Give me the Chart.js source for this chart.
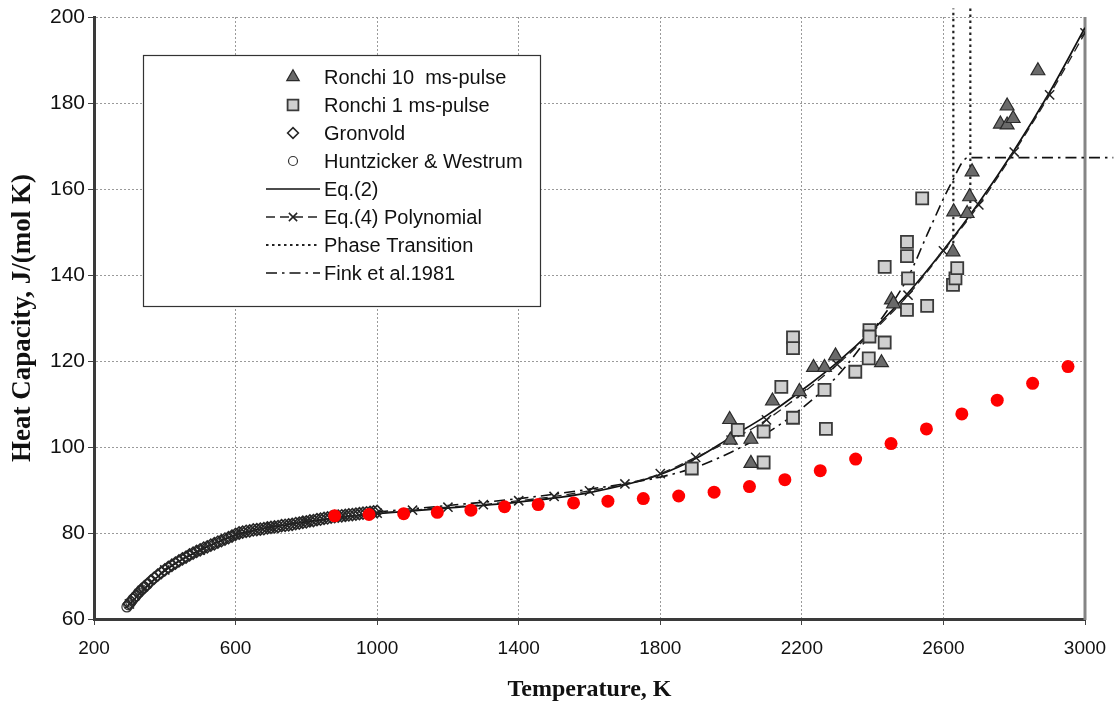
<!DOCTYPE html>
<html>
<head>
<meta charset="utf-8">
<title>Heat Capacity vs Temperature</title>
<script src="https://cdn.jsdelivr.net/npm/chart.js"></script>
<style>
  html, body { margin: 0; padding: 0; background: #fff; }
</style>
</head>
<body>
<canvas id="cp" width="1115" height="707"></canvas>
<script>
// ---- axis ticks
const xTicks = [200, 600, 1000, 1400, 1800, 2200, 2600, 3000];
const yTicks = [60, 80, 100, 120, 140, 160, 180, 200];

// ---- Ronchi 10 ms-pulse (triangles)
const r10T  = [1996, 1998, 2056, 2056, 2117, 2193, 2233, 2264, 2295, 2425, 2453, 2459, 2627, 2629, 2667, 2674, 2681, 2761, 2780, 2797, 2780, 2867];
const r10Cp = [106.4, 101.6, 101.8, 96.2, 110.7, 112.9, 118.5, 118.5, 121.2, 119.6, 134.2, 133.3, 145.4, 154.7, 154.3, 158.2, 164.0, 175.1, 174.9, 176.4, 179.3, 187.5];

// ---- Ronchi 1 ms-pulse (squares)
const r1T  = [1889, 2019, 2092, 2092, 2142, 2175, 2175, 2175, 2264, 2268, 2351, 2389, 2391, 2391, 2434, 2434, 2497, 2497, 2500, 2497, 2540, 2554, 2627, 2634, 2639];
const r1Cp = [95.0, 104.0, 103.6, 96.4, 114.0, 125.5, 123.0, 106.8, 113.3, 104.2, 117.5, 120.6, 127.2, 125.7, 124.3, 141.9, 147.7, 144.4, 139.2, 131.9, 157.8, 132.8, 137.7, 139.2, 141.6];

// ---- Gronvold (diamonds), dense run 300-1000 K
const groT  = [300, 310, 320, 330, 340, 350, 360, 370, 380, 390, 400, 410, 420, 430, 440, 450, 460, 470, 480, 490,
               500, 510, 520, 530, 540, 550, 560, 570, 580, 590, 600, 610, 620, 630, 640, 650, 660, 670, 680, 690,
               700, 710, 720, 730, 740, 750, 760, 770, 780, 790, 800, 810, 820, 830, 840, 850, 860, 870, 880, 890,
               900, 910, 920, 930, 940, 950, 960, 970, 980, 990, 1000];
const groCp = [63.6, 64.6, 65.5, 66.4, 67.2, 68.0, 68.8, 69.5, 70.2, 70.8, 71.4, 72.0, 72.5, 73.0, 73.5, 74.0, 74.4, 74.9, 75.3, 75.7,
               76.1, 76.5, 76.8, 77.2, 77.5, 77.9, 78.2, 78.6, 78.9, 79.3, 79.7, 80.0, 80.2, 80.4, 80.5, 80.7, 80.8, 80.9, 81.0, 81.2,
               81.3, 81.4, 81.5, 81.7, 81.8, 81.9, 82.0, 82.2, 82.3, 82.5, 82.6, 82.8, 82.9, 83.1, 83.2, 83.4, 83.5, 83.7, 83.8, 83.9,
               84.0, 84.1, 84.2, 84.3, 84.4, 84.5, 84.6, 84.7, 84.8, 84.9, 85.0];

// ---- Huntzicker & Westrum (circles)
const hwT  = [293, 298, 304, 310, 318, 326, 334, 342, 350];
const hwCp = [62.8, 63.3, 63.9, 64.6, 65.3, 66.1, 66.8, 67.4, 68.0];

// ---- Eq.(2)
const eq2T  = [290, 300, 350, 400, 450, 500, 550, 600, 650, 700, 800, 900, 1000, 1200, 1400, 1600, 1800, 1900, 2000, 2100, 2200, 2300, 2400, 2500, 2600, 2700, 2800, 2900, 3000];
const eq2Cp = [62.6, 63.4, 67.6, 71.2, 73.9, 76.0, 77.9, 79.5, 80.6, 81.3, 82.6, 83.7, 84.5, 85.8, 87.2, 89.4, 93.6, 97.3, 102.3, 107.3, 113.2, 119.7, 127.2, 135.8, 145.8, 156.8, 169.0, 182.5, 197.5];

// ---- Eq.(4) Polynomial
const eq4T  = [300, 400, 500, 600, 700, 800, 900, 1000, 1100, 1200, 1300, 1400, 1500, 1600, 1700, 1800, 1900, 2000, 2100, 2200, 2300, 2400, 2500, 2600, 2700, 2800, 2900, 3000];
const eq4Cp = [63.5, 71.4, 76.0, 79.6, 81.4, 82.7, 83.8, 84.6, 85.3, 86.0, 86.6, 87.5, 88.5, 89.8, 91.4, 93.8, 97.6, 101.6, 106.3, 112.4, 119.2, 126.8, 135.3, 145.6, 156.3, 168.6, 181.9, 196.3];

// ---- Phase Transition (two vertical dotted lines)
const phT  = [2628, 2628, 2676, 2676, 2676];
const phCp = [146, 202, null, 202, 153];

// ---- Fink et al.1981
const finkT  = [1000, 1200, 1400, 1600, 1800, 1900, 2000, 2100, 2200, 2300, 2400, 2500, 2560, 2620, 2670, 3080];
const finkCp = [84.9, 86.4, 88.0, 90.2, 93.0, 95.3, 98.8, 103.2, 109.0, 116.5, 127.0, 139.5, 150.5, 161.0, 167.3, 167.3];

// ---- red points (not in legend)
const redT  = [880, 977, 1075, 1170, 1265, 1360, 1455, 1555, 1652, 1752, 1852, 1952, 2052, 2152, 2252, 2352, 2452, 2552, 2652, 2752, 2852, 2952];
const redCp = [84.0, 84.3, 84.5, 84.8, 85.3, 86.1, 86.6, 87.0, 87.4, 88.0, 88.6, 89.5, 90.8, 92.4, 94.5, 97.2, 100.8, 104.2, 107.7, 110.9, 114.8, 118.7];

const pts = (xs, ys) => xs.map((x, i) => ({ x, y: ys[i] }));

const SANS = "'Liberation Sans', Arial, Helvetica, sans-serif";
const SERIF = "'Liberation Serif', 'Times New Roman', serif";
Chart.defaults.font.family = SANS;
Chart.defaults.color = '#111';

const datasets = [
    { label: '', data: pts(redT, redCp), order: 0,
      pointStyle: 'circle', pointRadius: 6.5, pointHoverRadius: 6.5,
      backgroundColor: '#ff0000', borderColor: '#ff0000', borderWidth: 0 },
    { label: 'Ronchi 10  ms-pulse', data: pts(r10T, r10Cp), order: 1,
      pointStyle: 'triangle', pointRadius: 8, backgroundColor: '#6a6a6a', borderColor: '#2a2a2a', borderWidth: 1.2 },
    { label: 'Ronchi 1 ms-pulse', data: pts(r1T, r1Cp), order: 1,
      pointStyle: 'rect', pointRadius: 8.5, backgroundColor: '#cfcfcf', borderColor: '#3a3a3a', borderWidth: 1.8 },
    { label: 'Gronvold', data: pts(groT, groCp), order: 2,
      pointStyle: 'rectRot', pointRadius: 6, backgroundColor: 'rgba(255,255,255,0)', borderColor: '#262626', borderWidth: 1.6 },
    { label: 'Huntzicker & Westrum', data: pts(hwT, hwCp), order: 2,
      pointStyle: 'circle', pointRadius: 5, backgroundColor: 'rgba(255,255,255,0)', borderColor: '#333', borderWidth: 1.2 },
    { label: 'Eq.(2)', data: pts(eq2T, eq2Cp), order: 5, showLine: true, pointRadius: 0,
      cubicInterpolationMode: 'monotone', borderColor: '#111', borderWidth: 1.7, _line: true },
    { label: 'Eq.(4) Polynomial', data: pts(eq4T, eq4Cp), order: 4, showLine: true,
      cubicInterpolationMode: 'monotone', borderColor: '#222', borderWidth: 1.3, borderDash: [9, 5],
      pointStyle: 'crossRot', pointRadius: 6.5, pointBorderWidth: 1.5, pointBorderColor: '#222', _line: true, _marker: true },
    { label: 'Phase Transition', data: pts(phT, phCp), order: 5, showLine: true, spanGaps: false, pointRadius: 0,
      borderColor: '#222', borderWidth: 2.2, borderDash: [2.5, 3.5], clip: { left: 0, top: 12, right: 0, bottom: 0 }, _line: true },
    { label: 'Fink et al.1981', data: pts(finkT, finkCp), order: 5, showLine: true, pointRadius: 0,
      cubicInterpolationMode: 'monotone', borderColor: '#111', borderWidth: 1.6, borderDash: [11, 5, 2.5, 5],
      clip: { left: 0, top: 0, right: 32, bottom: 0 }, _line: true }
];

// plot frame on the right
const framePlugin = {
    id: 'frame',
    beforeDatasetsDraw(chart) {
        const { ctx, chartArea: a } = chart;
        ctx.save();
        ctx.strokeStyle = '#858585';
        ctx.lineWidth = 3;
        ctx.beginPath();
        ctx.moveTo(a.right, a.top);
        ctx.lineTo(a.right, a.bottom + 1);
        ctx.stroke();
        ctx.restore();
    }
};

// legend box inside the plot
const insetLegend = {
    id: 'insetLegend',
    afterDraw(chart) {
        const { ctx, chartArea: a } = chart;
        const bx = a.left + 49, by = a.top + 38, bw = 397, bh = 251;
        const mx = bx + 150, lx0 = bx + 123, lx1 = bx + 177, tx = bx + 181;
        const rows = chart.data.datasets.filter(d => d.label);
        ctx.save();
        ctx.fillStyle = '#fff';
        ctx.fillRect(bx, by, bw, bh);
        ctx.strokeStyle = '#333';
        ctx.lineWidth = 1.2;
        ctx.strokeRect(bx + 0.5, by + 0.5, bw, bh);
        ctx.font = '20px ' + SANS;
        ctx.textBaseline = 'middle';
        rows.forEach((d, i) => {
            const y = by + 22 + i * 28;
            if (d._line) {
                ctx.save();
                ctx.strokeStyle = d.borderColor;
                ctx.lineWidth = d.borderWidth;
                ctx.setLineDash(d.borderDash || []);
                ctx.beginPath();
                ctx.moveTo(lx0, y);
                ctx.lineTo(lx1, y);
                ctx.stroke();
                ctx.restore();
            }
            if (!d._line || d._marker) {
                ctx.save();
                ctx.fillStyle = d._marker ? 'rgba(0,0,0,0)' : d.backgroundColor;
                ctx.strokeStyle = d.pointBorderColor || d.borderColor;
                ctx.lineWidth = d.pointBorderWidth || d.borderWidth;
                Chart.helpers.drawPoint(ctx, {
                    pointStyle: d.pointStyle, rotation: 0,
                    radius: d.pointRadius * 0.9, borderWidth: ctx.lineWidth
                }, mx, y);
                ctx.restore();
            }
            ctx.fillStyle = '#111';
            ctx.fillText(d.label, tx, y + 1);
        });
        ctx.restore();
    }
};

new Chart(document.getElementById('cp'), {
    type: 'scatter',
    data: { datasets },
    options: {
        responsive: false,
        animation: false,
        layout: { padding: { left: 0, right: 30, top: 17, bottom: 0 } },
        plugins: { legend: { display: false }, tooltip: { enabled: false } },
        scales: {
            x: {
                type: 'linear', min: 200, max: 3000,
                afterBuildTicks: (ax) => { ax.ticks = xTicks.map(v => ({ value: v })); },
                afterFit: (ax) => { ax.height = 88; ax.paddingLeft = 0; ax.paddingRight = 0; },
                ticks: { padding: 12, color: '#111', font: { size: 19 }, callback: (v) => String(v) },
                grid: { color: '#9a9a9a', lineWidth: 1, tickLength: 6, tickColor: '#444', tickBorderDash: [] },
                border: { color: '#3a3a3a', width: 3, dash: [2, 2] },
                title: { display: true, text: 'Temperature, K', color: '#111',
                         font: { size: 24, weight: 'bold', family: SERIF }, padding: { top: 0, bottom: 3 } }
            },
            y: {
                type: 'linear', min: 60, max: 200,
                afterBuildTicks: (ax) => { ax.ticks = yTicks.map(v => ({ value: v })); },
                afterFit: (ax) => { ax.width = 94; ax.paddingTop = 0; ax.paddingBottom = 0; },
                ticks: { padding: 3, color: '#111', font: { size: 21 }, callback: (v) => String(v) },
                grid: { color: '#9a9a9a', lineWidth: 1, tickLength: 6, tickColor: '#444', tickBorderDash: [] },
                border: { color: '#3a3a3a', width: 3, dash: [2, 2] },
                title: { display: true, text: 'Heat Capacity, J/(mol K)', color: '#111',
                         font: { size: 27, weight: 'bold', family: SERIF }, padding: { top: 7, bottom: 0 } }
            }
        }
    },
    plugins: [framePlugin, insetLegend]
});
</script>
</body>
</html>
